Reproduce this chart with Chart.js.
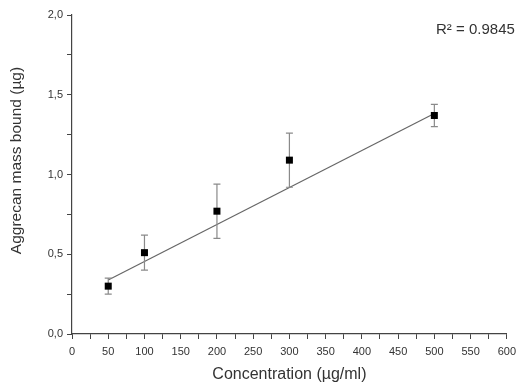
<!DOCTYPE html>
<html>
<head>
<meta charset="utf-8">
<script src="https://cdn.jsdelivr.net/npm/chart.js@4/dist/chart.umd.min.js"></script>
<style>
html,body{margin:0;padding:0;background:#fff;}
#c{display:block;}
</style>
</head>
<body>
<canvas id="c" width="522" height="387"></canvas>
<script>
// Data
const concentrations = [50, 100, 200, 300, 500];
const massBound = [0.30, 0.51, 0.77, 1.09, 1.37];
const errors = [0.05, 0.11, 0.17, 0.17, 0.07];
const fitX = [50, 500];
const fitY = [0.338, 1.382];
const rSquaredLabel = 'R² = 0.9845';
const xTitle = 'Concentration (µg/ml)';
const yTitle = 'Aggrecan mass bound (µg)';

const FONT = '"Liberation Sans", Arial, sans-serif';
const TXT = '#333';

const errorBarPlugin = {
  id: 'errorBars',
  afterDatasetsDraw(chart) {
    const ctx = chart.ctx;
    const xs = chart.scales.x, ys = chart.scales.y;
    ctx.save();
    ctx.strokeStyle = '#8a8a8a';
    ctx.lineWidth = 1.2;
    concentrations.forEach((c, i) => {
      const px = xs.getPixelForValue(c);
      const top = ys.getPixelForValue(massBound[i] + errors[i]);
      const bot = ys.getPixelForValue(massBound[i] - errors[i]);
      ctx.beginPath();
      ctx.moveTo(px, top); ctx.lineTo(px, bot);
      ctx.moveTo(px - 3.5, top); ctx.lineTo(px + 3.5, top);
      ctx.moveTo(px - 3.5, bot); ctx.lineTo(px + 3.5, bot);
      ctx.stroke();
    });
    // points on top of error bars
    const meta = chart.getDatasetMeta(1);
    ctx.fillStyle = '#000';
    meta.data.forEach(pt => {
      ctx.fillRect(pt.x - 3.5, pt.y - 3.5, 7, 7);
    });
    // R² annotation
    ctx.fillStyle = TXT;
    ctx.font = '15px ' + FONT;
    ctx.textAlign = 'right';
    ctx.textBaseline = 'middle';
    ctx.fillText(rSquaredLabel, chart.chartArea.right + 8, chart.chartArea.top + 15);
    // y axis title (slightly above centre, as in the reference)
    ctx.save();
    ctx.translate(17, (chart.chartArea.top + chart.chartArea.bottom) / 2 - 14);
    ctx.rotate(-Math.PI / 2);
    ctx.textAlign = 'center';
    ctx.font = '15.5px ' + FONT;
    ctx.fillText(yTitle, 0, 0);
    ctx.restore();
    ctx.restore();
  }
};

new Chart(document.getElementById('c'), {
  type: 'scatter',
  data: {
    datasets: [
      {
        type: 'line',
        label: 'fit',
        data: fitX.map((x, i) => ({x: x, y: fitY[i]})),
        borderColor: '#666',
        borderWidth: 1.2,
        pointRadius: 0,
        fill: false
      },
      {
        label: 'data',
        data: concentrations.map((x, i) => ({x: x, y: massBound[i]})),
        pointStyle: 'rect',
        pointRadius: 0,
        backgroundColor: '#000',
        borderColor: '#000'
      }
    ]
  },
  options: {
    responsive: false,
    animation: false,
    events: [],
    layout: {padding: {left: 0, right: 15, top: 15, bottom: 0}},
    plugins: {legend: {display: false}, tooltip: {enabled: false}},
    scales: {
      x: {
        type: 'linear',
        min: 0, max: 600,
        afterFit(s) { s.height = 53; },
        border: {color: '#444', width: 1.2},
        grid: {drawOnChartArea: false, tickLength: 5, color: '#444', tickWidth: 1},
        ticks: {
          stepSize: 25, autoSkip: false, maxRotation: 0, padding: 6,
          color: TXT, font: {family: FONT, size: 11},
          callback: v => (v % 50 === 0 ? String(v) : '')
        },
        title: {display: true, text: xTitle, color: TXT, font: {family: FONT, size: 16}, padding: {top: 4, bottom: 3}}
      },
      y: {
        type: 'linear',
        min: 0, max: 2,
        afterFit(s) { s.width = 72; },
        border: {color: '#444', width: 1.2},
        grid: {drawOnChartArea: false, tickLength: 5, color: '#444', tickWidth: 1},
        ticks: {
          stepSize: 0.25, autoSkip: false, padding: 4,
          color: TXT, font: {family: FONT, size: 11},
          callback: v => (Math.abs(v * 2 - Math.round(v * 2)) < 1e-9 ? v.toFixed(1).replace('.', ',') : '')
        },
        title: {display: false, text: yTitle}
      }
    }
  },
  plugins: [errorBarPlugin]
});
</script>
</body>
</html>
